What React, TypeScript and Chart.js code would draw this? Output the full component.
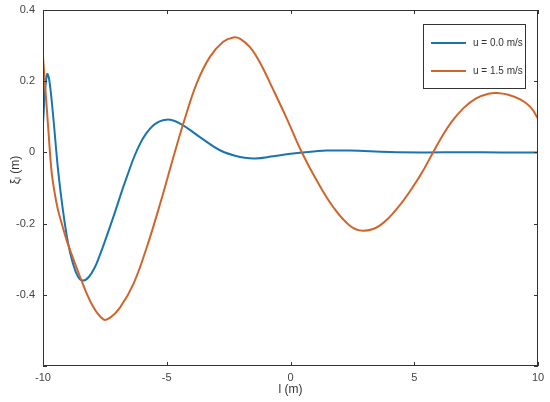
import React, { useEffect, useRef } from "react";
import { Chart, registerables } from "chart.js";

Chart.register(...registerables);

const blueL = [-10, -9.92, -9.83, -9.75, -9.6, -9.39, -9.2, -9.0, -8.8, -8.58, -8.38, -8.15, -7.9, -7.7, -7.49, -7.16, -6.62, -6.08, -5.54, -5.0, -4.46, -3.66, -2.85, -2.04, -1.43, -0.7, 0, 0.5, 1.46, 2.4, 4.0, 5.5, 7.0, 8.5, 10];
const blueV = [0.08, 0.17, 0.22, 0.205, 0.11, -0.05, -0.16, -0.25, -0.31, -0.35, -0.36, -0.35, -0.322, -0.288, -0.248, -0.182, -0.07, 0.024, 0.076, 0.092, 0.081, 0.043, 0.006, -0.013, -0.017, -0.011, -0.004, 0.0, 0.005, 0.005, 0.001, 0, 0.0005, 0, 0];

const orangeL = [-10, -9.93, -9.87, -9.78, -9.66, -9.55, -9.4, -9.2, -9.03, -8.5, -8.0, -7.56, -7.3, -6.89, -6.35, -5.81, -5.27, -4.73, -4.33, -3.79, -3.25, -2.72, -2.31, -2.03, -1.63, -1.23, -0.69, -0.15, 0.45, 1.06, 1.73, 2.4, 2.94, 3.62, 4.42, 5.23, 5.77, 6.04, 6.5, 7.0, 7.5, 8.0, 8.34, 8.8, 9.3, 9.7, 10];
const orangeV = [0.27, 0.2, 0.146, 0.06, -0.05, -0.105, -0.16, -0.21, -0.25, -0.35, -0.43, -0.469, -0.465, -0.436, -0.37, -0.267, -0.145, -0.013, 0.081, 0.194, 0.269, 0.311, 0.323, 0.319, 0.295, 0.252, 0.175, 0.095, 0.001, -0.079, -0.154, -0.206, -0.22, -0.205, -0.148, -0.066, 0.001, 0.035, 0.085, 0.125, 0.152, 0.165, 0.167, 0.162, 0.148, 0.127, 0.095];

const seriesNames = ["u = 0.0 m/s", "u = 1.5 m/s"];
const xTicks = [-10, -5, 0, 5, 10];
const yTicks = [-0.6, -0.4, -0.2, 0, 0.2, 0.4];
const xTitle = "l (m)";
const yTitle = "ξₗ (m)";

const BLUE = "#1a74b0";
const ORANGE = "#d0652c";
const FRAME = "#333333";
const FONT = "'Liberation Sans', Arial, sans-serif";

export default function App() {
  const ref = useRef<HTMLCanvasElement | null>(null);
  useEffect(() => {
    document.body.style.margin = "0";
    const canvas = ref.current;
    if (!canvas) return;

    const decor = {
      id: "decor",
      afterDraw(chart: any) {
        const ctx = chart.ctx;
        const a = chart.chartArea;
        const xs = chart.scales.x;
        const ys = chart.scales.y;
        ctx.save();
        ctx.strokeStyle = FRAME;
        ctx.lineWidth = 1;
        ctx.strokeRect(Math.round(a.left) + 0.5, Math.round(a.top) + 0.5, Math.round(a.right - a.left) - 1, Math.round(a.bottom - a.top) - 1);
        ctx.beginPath();
        const tl = 4;
        xTicks.forEach((v) => {
          const px = Math.round(xs.getPixelForValue(v)) + 0.5;
          ctx.moveTo(px, a.bottom);
          ctx.lineTo(px, a.bottom - tl);
          ctx.moveTo(px, a.top);
          ctx.lineTo(px, a.top + tl);
        });
        yTicks.forEach((v) => {
          const py = Math.round(ys.getPixelForValue(v)) + 0.5;
          ctx.moveTo(a.left, py);
          ctx.lineTo(a.left + tl, py);
          ctx.moveTo(a.right, py);
          ctx.lineTo(a.right - tl, py);
        });
        ctx.stroke();

        ctx.fillStyle = "#333";
        ctx.font = `12px ${FONT}`;
        ctx.textAlign = "center";
        ctx.textBaseline = "middle";
        ctx.fillText(xTitle, (a.left + a.right) / 2, 390);
        ctx.save();
        ctx.translate(16, 170);
        ctx.rotate(-Math.PI / 2);
        ctx.fillText(yTitle, 0, 0);
        ctx.restore();

        const lx = 423, ly = 24, lw = 102, lh = 64;
        ctx.fillStyle = "#fff";
        ctx.fillRect(lx, ly, lw, lh);
        ctx.strokeStyle = FRAME;
        ctx.strokeRect(lx + 0.5, ly + 0.5, lw, lh);
        const cols = [BLUE, ORANGE];
        const rows = [43, 71];
        ctx.font = `10px ${FONT}`;
        ctx.textAlign = "left";
        seriesNames.forEach((n, i) => {
          ctx.strokeStyle = cols[i];
          ctx.lineWidth = 2;
          ctx.beginPath();
          ctx.moveTo(431, rows[i]);
          ctx.lineTo(466, rows[i]);
          ctx.stroke();
          ctx.fillStyle = "#333";
          ctx.fillText(n, 473, rows[i]);
        });
        ctx.restore();
      },
    };

    const chart = new Chart(canvas, {
      type: "line",
      data: {
        datasets: [
          {
            label: seriesNames[0],
            data: blueL.map((l, i) => ({ x: l, y: blueV[i] })),
            borderColor: BLUE,
            borderWidth: 2,
            pointRadius: 0,
            tension: 0.4,
            fill: false,
            order: 2,
          },
          {
            label: seriesNames[1],
            data: orangeL.map((l, i) => ({ x: l, y: orangeV[i] })),
            borderColor: ORANGE,
            borderWidth: 2,
            pointRadius: 0,
            tension: 0.4,
            fill: false,
            order: 1,
          },
        ],
      },
      options: {
        animation: false,
        responsive: false,
        layout: { padding: { left: 0, right: 12, top: 10, bottom: 0 } },
        plugins: { legend: { display: false }, tooltip: { enabled: false } },
        scales: {
          x: {
            type: "linear",
            min: -10,
            max: 10,
            grid: { display: false, drawTicks: false },
            border: { display: false },
            afterFit: (s: any) => { s.height = 36; s.paddingLeft = 0; s.paddingRight = 0; },
            afterBuildTicks: (s: any) => { s.ticks = xTicks.map((v) => ({ value: v })); },
            ticks: {
              padding: 5,
              color: "#444",
              font: { family: FONT, size: 11 },
              callback: (v: any) => String(v),
            },
          },
          y: {
            type: "linear",
            min: -0.6,
            max: 0.4,
            grid: { display: false, drawTicks: false },
            border: { display: false },
            afterFit: (s: any) => { s.width = 43; s.paddingTop = 0; s.paddingBottom = 0; },
            afterBuildTicks: (s: any) => { s.ticks = yTicks.map((v) => ({ value: v })); },
            ticks: {
              padding: 8,
              color: "#444",
              font: { family: FONT, size: 11 },
              callback: (v: any) => {
                const r = Math.round(Number(v) * 10) / 10;
                if (r === -0.6) return "";
                return r === 0 ? "0" : String(r);
              },
            },
          },
        },
      },
      plugins: [decor],
    });
    return () => chart.destroy();
  }, []);
  return <canvas ref={ref} width={550} height={402} style={{ display: "block" }} />;
}
